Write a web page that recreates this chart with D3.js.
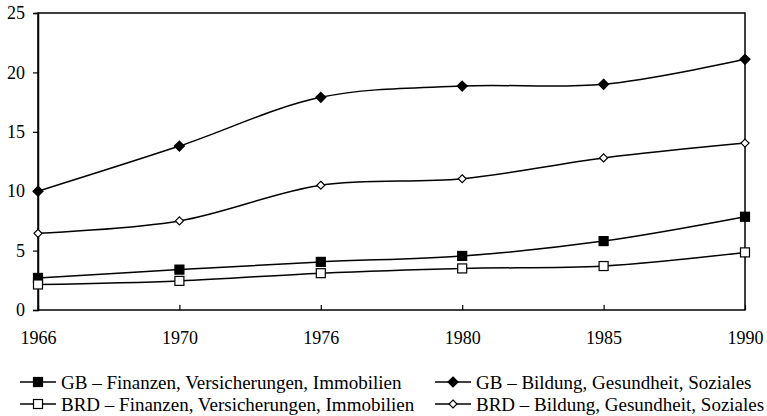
<!DOCTYPE html>
<html>
<head>
<meta charset="utf-8">
<script src="https://cdn.jsdelivr.net/npm/d3@7"></script>
<style>
  body { margin: 0; background: #fff; }
  svg { display: block; }
</style>
</head>
<body>
<svg id="chart" width="767" height="416"></svg>
<script>
const years = ["1966", "1970", "1976", "1980", "1985", "1990"];
const yTicks = [0, 5, 10, 15, 20, 25];

const gbFinanzen = [2.7, 3.4, 4.05, 4.55, 5.8, 7.85];
const brdFinanzen = [2.15, 2.45, 3.1, 3.5, 3.7, 4.85];
const gbBildung = [10, 13.8, 17.9, 18.85, 19.0, 21.1];
const brdBildung = [6.45, 7.5, 10.5, 11.05, 12.8, 14.05];

const series = [
  {name: "GB – Finanzen, Versicherungen, Immobilien", values: gbFinanzen, shape: "square", filled: true},
  {name: "BRD – Finanzen, Versicherungen, Immobilien", values: brdFinanzen, shape: "square", filled: false},
  {name: "GB – Bildung, Gesundheit, Soziales", values: gbBildung, shape: "diamond", filled: true},
  {name: "BRD – Bildung, Gesundheit, Soziales", values: brdBildung, shape: "diamond", filled: false}
];

const font = "'Liberation Serif', 'Times New Roman', serif";
const margin = {left: 38, right: 22, top: 13, bottom: 106};
const width = 767, height = 416;

const svg = d3.select("#chart");

const x = d3.scalePoint()
  .domain(years)
  .range([margin.left, width - margin.right]);

const y = d3.scaleLinear()
  .domain([0, 25])
  .range([height - margin.bottom, margin.top]);

// frame
svg.append("rect")
  .attr("x", margin.left)
  .attr("y", margin.top)
  .attr("width", width - margin.right - margin.left)
  .attr("height", y(0) - margin.top)
  .attr("fill", "none")
  .attr("stroke", "#000")
  .attr("stroke-width", 1.5);

// y axis
const yAxis = svg.append("g")
  .attr("transform", `translate(${margin.left},0)`)
  .call(d3.axisLeft(y).tickValues(yTicks).tickSize(5).tickPadding(8));
yAxis.attr("font-family", font).attr("font-size", "18px");
yAxis.select(".domain").attr("stroke-width", 1.5);
yAxis.selectAll("line").attr("stroke-width", 1.2);
yAxis.selectAll("text").attr("fill", "#000");

// x axis, ticks pointing inside
const xAxis = svg.append("g")
  .attr("transform", `translate(0,${y(0)})`)
  .call(d3.axisBottom(x).tickSize(-5).tickPadding(21));
xAxis.attr("font-family", font).attr("font-size", "18px");
xAxis.select(".domain").remove();
xAxis.selectAll("line").attr("stroke-width", 1.2);
xAxis.selectAll("text").attr("fill", "#000");

const line = d3.line()
  .x((d, i) => x(years[i]))
  .y(d => y(d))
  .curve(d3.curveCatmullRom.alpha(0.5));

function drawMarker(g, s, cx, cy) {
  if (s.shape === "square") {
    const sz = 9;
    g.append("rect")
      .attr("x", cx - sz / 2).attr("y", cy - sz / 2)
      .attr("width", sz).attr("height", sz)
      .attr("fill", s.filled ? "#000" : "#fff")
      .attr("stroke", "#000").attr("stroke-width", 1.2);
  } else {
    const sz = s.filled ? 10 : 8;
    g.append("path")
      .attr("d", `M${cx},${cy - sz / 2}L${cx + sz / 2},${cy}L${cx},${cy + sz / 2}L${cx - sz / 2},${cy}Z`)
      .attr("fill", s.filled ? "#000" : "#fff")
      .attr("stroke", "#000").attr("stroke-width", 1.2);
  }
}

series.forEach(s => {
  svg.append("path")
    .datum(s.values)
    .attr("d", line)
    .attr("fill", "none")
    .attr("stroke", "#000")
    .attr("stroke-width", 1.5);
  const g = svg.append("g");
  s.values.forEach((v, i) => drawMarker(g, s, x(years[i]), y(v)));
});

// legend
const legendPos = [[20, 382], [20, 404], [435, 382], [435, 404]];
series.forEach((s, i) => {
  const [lx, ly] = legendPos[i];
  const g = svg.append("g");
  g.append("line")
    .attr("x1", lx).attr("x2", lx + 36)
    .attr("y1", ly).attr("y2", ly)
    .attr("stroke", "#000").attr("stroke-width", 1.5);
  drawMarker(g, s, lx + 18, ly);
  g.append("text")
    .attr("x", lx + 41).attr("y", ly)
    .attr("dy", "0.35em")
    .attr("font-family", font)
    .attr("font-size", "19px")
    .text(s.name);
});
</script>
</body>
</html>
